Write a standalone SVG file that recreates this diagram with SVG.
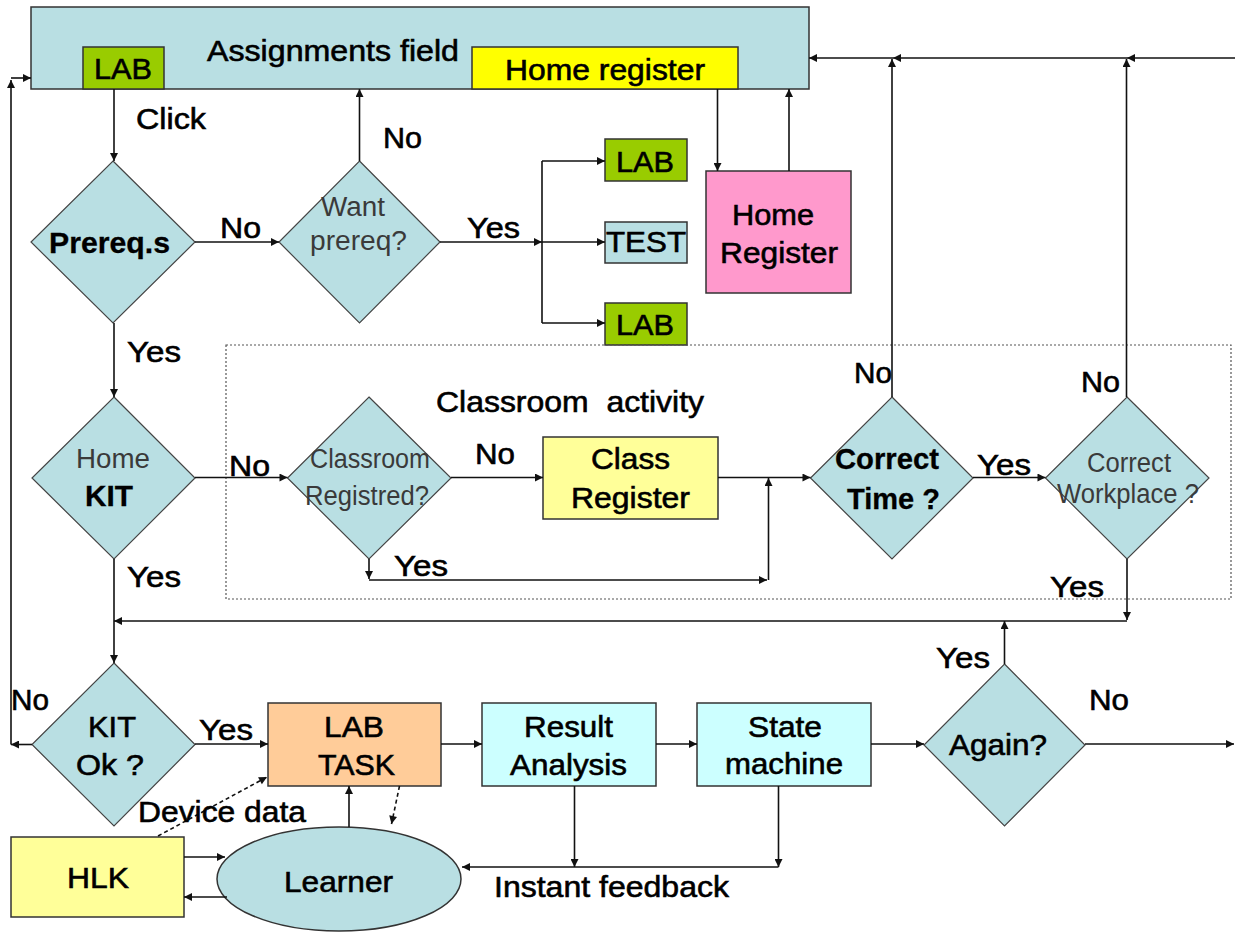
<svg xmlns="http://www.w3.org/2000/svg" width="1235" height="933" viewBox="0 0 1235 933">
<defs>
<marker id="ah" viewBox="0 0 10 10" refX="10" refY="5" markerWidth="9" markerHeight="8" markerUnits="userSpaceOnUse" orient="auto"><path d="M0,0 L10,5 L0,10 z" fill="#111"/></marker>
<style>
.n{stroke:#333;stroke-width:1.5}
.dia{fill:#b9dfe3;stroke:#444;stroke-width:1.2}
.c{fill:none;stroke:#111;stroke-width:1.6}
.a{marker-end:url(#ah)}
.d{stroke-dasharray:4 3}
text{font-family:"Liberation Sans",Arial,sans-serif;font-size:30px;fill:#000;stroke:#000;stroke-width:0.6}
.b{font-weight:bold;stroke-width:0.3}
.t{fill:#3a3a3a;font-size:27px;stroke:none}
</style>
</defs>
<rect x="0" y="0" width="1235" height="933" fill="#fff"/>

<g id="assignments">
<rect class="n" x="31" y="7" width="778" height="82" fill="#b9dfe3"/>
<text x="207" y="61" textLength="252" lengthAdjust="spacingAndGlyphs">Assignments field</text>
</g>
<g id="lab-top">
<rect class="n" x="83" y="47" width="81" height="42" fill="#99cc00"/>
<text x="94" y="79" textLength="58" lengthAdjust="spacingAndGlyphs">LAB</text>
</g>
<g id="home-register-tab">
<rect class="n" x="472" y="47" width="266" height="42" fill="#ffff00"/>
<text x="505" y="80" textLength="200" lengthAdjust="spacingAndGlyphs">Home register</text>
</g>

<g id="prereqs">
<polygon class="dia" points="113,161 195,242 113,323 31,242"/>
<text class="b" x="49" y="253" textLength="121" lengthAdjust="spacingAndGlyphs">Prereq.s</text>
</g>
<g id="want-prereq">
<polygon class="dia" points="359.5,161 440,242 359.5,323 279,242"/>
<text class="t" x="321" y="216" textLength="64" lengthAdjust="spacingAndGlyphs">Want</text>
<text class="t" x="310" y="250" textLength="97" lengthAdjust="spacingAndGlyphs">prereq?</text>
</g>
<g id="lab-1">
<rect class="n" x="605" y="139" width="82" height="42" fill="#99cc00"/>
<text x="616" y="172" textLength="58" lengthAdjust="spacingAndGlyphs">LAB</text>
</g>
<g id="test">
<rect class="n" x="605" y="222" width="82" height="41" fill="#b9dfe3"/>
<text x="606" y="252" textLength="80" lengthAdjust="spacingAndGlyphs">TEST</text>
</g>
<g id="lab-2">
<rect class="n" x="605" y="303" width="82" height="42" fill="#99cc00"/>
<text x="616" y="335" textLength="58" lengthAdjust="spacingAndGlyphs">LAB</text>
</g>
<g id="home-register">
<rect class="n" x="706" y="171" width="145" height="122" fill="#ff99cc"/>
<text x="732" y="225" textLength="82" lengthAdjust="spacingAndGlyphs">Home</text>
<text x="720" y="263" textLength="118" lengthAdjust="spacingAndGlyphs">Register</text>
</g>

<g id="classroom-activity">
<rect x="226" y="345" width="1005" height="254" fill="none" stroke="#555" stroke-width="1.2" stroke-dasharray="2 2"/>
<text x="436" y="412" textLength="268" lengthAdjust="spacingAndGlyphs" xml:space="preserve">Classroom  activity</text>
</g>
<g id="home-kit">
<polygon class="dia" points="114,397 195,478 114,559 32,478"/>
<text class="t" x="76" y="468" textLength="74" lengthAdjust="spacingAndGlyphs">Home</text>
<text class="b" x="85" y="506" textLength="48" lengthAdjust="spacingAndGlyphs">KIT</text>
</g>
<g id="classroom-registred">
<polygon class="dia" points="369,397 451,478 369,559 287.5,478"/>
<text class="t" x="310" y="468" textLength="120" lengthAdjust="spacingAndGlyphs">Classroom</text>
<text class="t" x="305" y="505" textLength="124" lengthAdjust="spacingAndGlyphs">Registred?</text>
</g>
<g id="class-register">
<rect class="n" x="543" y="437" width="175" height="82" fill="#ffff99"/>
<text x="591" y="469" textLength="79" lengthAdjust="spacingAndGlyphs">Class</text>
<text x="571" y="508" textLength="119" lengthAdjust="spacingAndGlyphs">Register</text>
</g>
<g id="correct-time">
<polygon class="dia" points="892,397 973,478 892,559 810.5,478"/>
<text class="b" x="835" y="469" textLength="104" lengthAdjust="spacingAndGlyphs">Correct</text>
<text class="b" x="847" y="509" textLength="93" lengthAdjust="spacingAndGlyphs">Time ?</text>
</g>
<g id="correct-workplace">
<polygon class="dia" points="1127,397 1209,478 1127,559 1045.5,478"/>
<text class="t" x="1087" y="472" textLength="84" lengthAdjust="spacingAndGlyphs">Correct</text>
<text class="t" x="1057" y="503" textLength="142" lengthAdjust="spacingAndGlyphs">Workplace ?</text>
</g>

<g id="kit-ok">
<polygon class="dia" points="114,663 195,744.5 114,826 32,744.5"/>
<text x="88" y="737" textLength="48" lengthAdjust="spacingAndGlyphs">KIT</text>
<text x="76" y="775" textLength="68" lengthAdjust="spacingAndGlyphs">Ok ?</text>
</g>
<g id="lab-task">
<rect class="n" x="268" y="703" width="173" height="83" fill="#ffcc99"/>
<text x="324" y="737" textLength="60" lengthAdjust="spacingAndGlyphs">LAB</text>
<text x="318" y="775" textLength="77" lengthAdjust="spacingAndGlyphs">TASK</text>
</g>
<g id="result-analysis">
<rect class="n" x="482" y="703" width="174" height="83" fill="#ccffff"/>
<text x="524" y="737" textLength="89" lengthAdjust="spacingAndGlyphs">Result</text>
<text x="510" y="775" textLength="117" lengthAdjust="spacingAndGlyphs">Analysis</text>
</g>
<g id="state-machine">
<rect class="n" x="697" y="703" width="174" height="83" fill="#ccffff"/>
<text x="748" y="737" textLength="74" lengthAdjust="spacingAndGlyphs">State</text>
<text x="725" y="774" textLength="118" lengthAdjust="spacingAndGlyphs">machine</text>
</g>
<g id="again">
<polygon class="dia" points="1004.5,664 1085,745 1004.5,826 924,745"/>
<text x="949" y="755" textLength="98" lengthAdjust="spacingAndGlyphs">Again?</text>
</g>
<g id="hlk">
<rect class="n" x="11" y="837" width="173" height="80" fill="#ffff99"/>
<text x="67" y="888" textLength="62" lengthAdjust="spacingAndGlyphs">HLK</text>
</g>
<g id="learner">
<ellipse class="n" cx="339" cy="879" rx="122" ry="52" fill="#b9dfe3"/>
<text x="284" y="892" textLength="109" lengthAdjust="spacingAndGlyphs">Learner</text>
</g>

<g id="connectors">
<path class="c a" d="M114,89 V161"/>
<path class="c a" d="M195,242 H279"/>
<path class="c a" d="M359.5,161 V89"/>
<path class="c a" d="M440,242 H542"/>
<path class="c" d="M542,161 V323"/>
<path class="c a" d="M542,161 H605"/>
<path class="c a" d="M542,242 H605"/>
<path class="c a" d="M542,323 H605"/>
<path class="c a" d="M717.5,89 V171"/>
<path class="c a" d="M789,171 V89"/>
<path class="c a" d="M1235,58 H1127"/>
<path class="c a" d="M1127,58 H893"/>
<path class="c a" d="M893,58 H809"/>
<path class="c a" d="M892,397 V59"/>
<path class="c a" d="M1126.5,397 V59"/>
<path class="c a" d="M114,323 V397"/>
<path class="c a" d="M195,477.5 H287.5"/>
<path class="c a" d="M451,477.5 H543"/>
<path class="c a" d="M369,559 V579"/>
<path class="c a" d="M369,580 H767"/>
<path class="c a" d="M768.5,580 V478"/>
<path class="c a" d="M718,477.5 H810.5"/>
<path class="c a" d="M973,477.5 H1045.5"/>
<path class="c a" d="M1127,559 V620"/>
<path class="c a" d="M1127,621 H114"/>
<path class="c a" d="M114,559 V663"/>
<path class="c a" d="M32,744.5 H11"/>
<path class="c a" d="M11,744.5 V80"/>
<path class="c a" d="M11,78 H31"/>
<path class="c a" d="M195,744 H268"/>
<path class="c a" d="M441,744 H482"/>
<path class="c a" d="M656,744 H697"/>
<path class="c a" d="M871,744 H924"/>
<path class="c a" d="M1085,744 H1234"/>
<path class="c a" d="M1004.5,664 V621"/>
<path class="c a d" d="M158,836 L267,777"/>
<path class="c a" d="M349,827 V786"/>
<path class="c a d" d="M399.5,786 L391.5,824"/>
<path class="c a" d="M184,857 H225"/>
<path class="c a" d="M227,897 H184"/>
<path class="c a" d="M574.5,786 V867"/>
<path class="c a" d="M778.5,786 V867"/>
<path class="c a" d="M778.5,867 H462"/>
</g>

<g id="labels">
<text x="136" y="129" textLength="70" lengthAdjust="spacingAndGlyphs">Click</text>
<text x="383" y="148" textLength="39" lengthAdjust="spacingAndGlyphs">No</text>
<text x="220" y="238" textLength="41" lengthAdjust="spacingAndGlyphs">No</text>
<text x="467" y="238" textLength="53" lengthAdjust="spacingAndGlyphs">Yes</text>
<text x="127" y="362" textLength="54" lengthAdjust="spacingAndGlyphs">Yes</text>
<text x="229" y="476" textLength="41" lengthAdjust="spacingAndGlyphs">No</text>
<text x="475" y="464" textLength="40" lengthAdjust="spacingAndGlyphs">No</text>
<text x="394" y="576" textLength="54" lengthAdjust="spacingAndGlyphs">Yes</text>
<text x="854" y="383" textLength="38" lengthAdjust="spacingAndGlyphs">No</text>
<text x="977" y="475" textLength="54" lengthAdjust="spacingAndGlyphs">Yes</text>
<text x="1081" y="392" textLength="39" lengthAdjust="spacingAndGlyphs">No</text>
<text x="1050" y="597" textLength="54" lengthAdjust="spacingAndGlyphs">Yes</text>
<text x="127" y="587" textLength="54" lengthAdjust="spacingAndGlyphs">Yes</text>
<text x="11" y="710" textLength="38" lengthAdjust="spacingAndGlyphs">No</text>
<text x="199" y="740" textLength="54" lengthAdjust="spacingAndGlyphs">Yes</text>
<text x="936" y="668" textLength="54" lengthAdjust="spacingAndGlyphs">Yes</text>
<text x="1089" y="710" textLength="40" lengthAdjust="spacingAndGlyphs">No</text>
<text x="138" y="822" textLength="168" lengthAdjust="spacingAndGlyphs">Device data</text>
<text x="494" y="897" textLength="235" lengthAdjust="spacingAndGlyphs">Instant feedback</text>
</g>
</svg>
